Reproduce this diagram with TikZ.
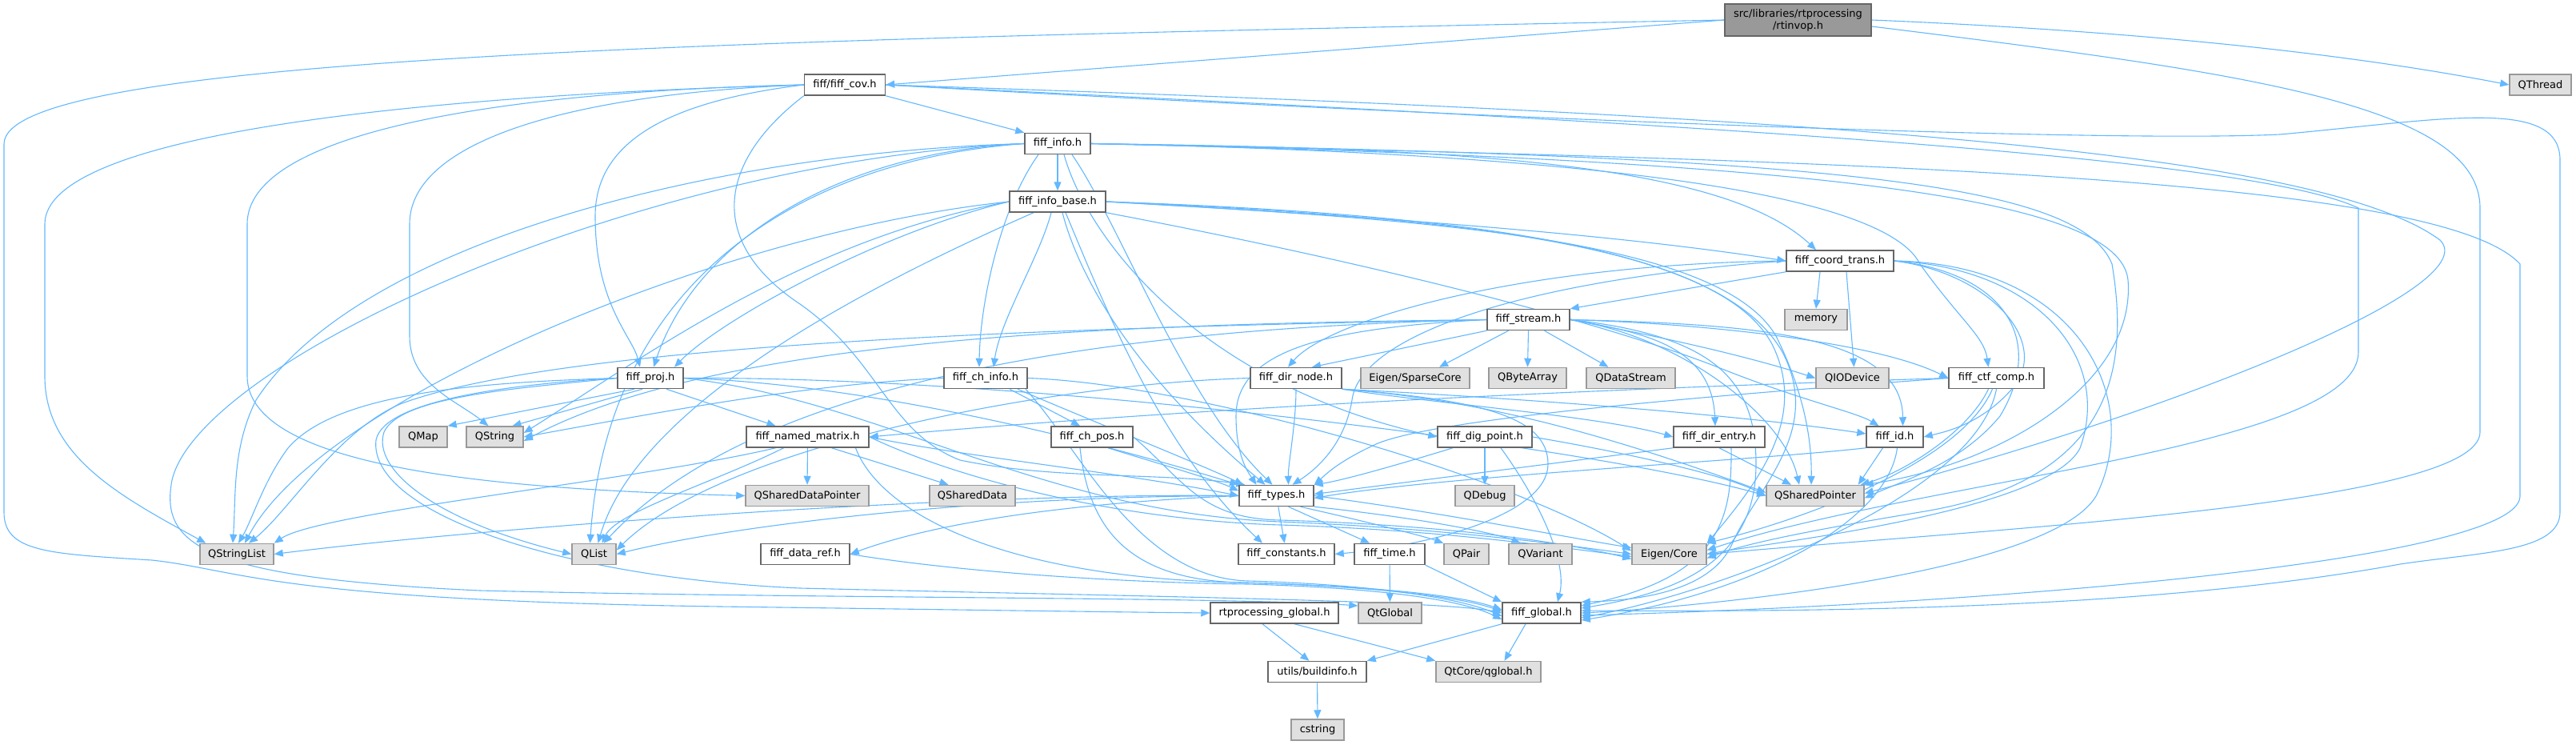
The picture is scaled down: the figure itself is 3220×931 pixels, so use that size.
\documentclass[tikz,border=0pt]{standalone}
\usepackage{fontspec}
\setmainfont{DejaVu Sans}
\usetikzlibrary{arrows.meta,backgrounds}
\definecolor{edgec}{HTML}{63B8FF}
\definecolor{extfill}{HTML}{E0E0E0}
\definecolor{extdraw}{HTML}{999999}
\definecolor{intdraw}{HTML}{666666}
\definecolor{rootfill}{HTML}{999999}
\newcommand\nfont{\fontsize{13}{15}\selectfont}
\tikzset{
  box/.style={draw=intdraw, fill=white, line width=1.5pt, minimum height=26pt, inner sep=0pt, font=\nfont},
  ext/.style={box, draw=extdraw, fill=extfill},
  rootbox/.style={box, fill=rootfill, minimum height=40pt, align=center},
  dep/.style={draw=edgec, line width=1.1pt, -{Triangle[length=11pt,width=9pt]}}
}
\begin{document}
\begin{tikzpicture}[x=1pt,y=-1pt]
\useasboundingbox (0,0) rectangle (3220,931);
% row 0/1
\node[rootbox, minimum width=183pt] (root) at (2247.5,25) {src/libraries/rtprocessing\\/rtinvop.h};
\node[ext, minimum width=77pt] (qthread) at (3175.5,106) {QThread};
\node[box, minimum width=101pt] (cov) at (1056,106) {fiff/fiff\_cov.h};
\node[box, minimum width=82pt] (info) at (1322,179.5) {fiff\_info.h};
\node[box, minimum width=120pt] (infobase) at (1322,252) {fiff\_info\_base.h};
\node[box, minimum width=134pt] (coord) at (2300,326) {fiff\_coord\_trans.h};
\node[box, minimum width=103pt] (stream) at (1910.5,399.5) {fiff\_stream.h};
\node[ext, minimum width=78pt] (memory) at (2270,399.5) {memory};
% row 6
\node[box, minimum width=82pt] (proj) at (813,472.5) {fiff\_proj.h};
\node[box, minimum width=104pt] (chinfo) at (1232,472.5) {fiff\_ch\_info.h};
\node[box, minimum width=114pt] (dirnode) at (1620,472.5) {fiff\_dir\_node.h};
\node[ext, minimum width=136pt] (sparse) at (1769,472.5) {Eigen/SparseCore};
\node[ext, minimum width=97pt] (qbyte) at (1909.5,472.5) {QByteArray};
\node[ext, minimum width=111pt] (qdstream) at (2038.5,472.5) {QDataStream};
\node[ext, minimum width=91pt] (qiodev) at (2315.5,472.5) {QIODevice};
\node[box, minimum width=119pt] (ctf) at (2495.5,472.5) {fiff\_ctf\_comp.h};
% row 7
\node[ext, minimum width=60pt] (qmap) at (529,546) {QMap};
\node[ext, minimum width=71pt] (qstring) at (618.5,546) {QString};
\node[box, minimum width=153pt] (named) at (1009.5,546) {fiff\_named\_matrix.h};
\node[box, minimum width=102pt] (chpos) at (1365,546) {fiff\_ch\_pos.h};
\node[box, minimum width=118pt] (digpoint) at (1856,546) {fiff\_dig\_point.h};
\node[box, minimum width=114pt] (direntry) at (2149,546) {fiff\_dir\_entry.h};
\node[box, minimum width=71pt] (fid) at (2368.5,546) {fiff\_id.h};
% row 8
\node[ext, minimum width=154pt] (qsdp) at (1009,619.5) {QSharedDataPointer};
\node[ext, minimum width=107pt] (qsd) at (1215.5,619.5) {QSharedData};
\node[box, minimum width=93pt] (types) at (1595.5,619.5) {fiff\_types.h};
\node[ext, minimum width=74pt] (qdebug) at (1856,619.5) {QDebug};
\node[ext, minimum width=122pt] (qsp) at (2269,619.5) {QSharedPointer};
% row 9
\node[ext, minimum width=92pt] (qsl) at (296,692.5) {QStringList};
\node[ext, minimum width=55pt] (qlist) at (742.5,692.5) {QList};
\node[box, minimum width=111pt] (dataref) at (1006.5,692.5) {fiff\_data\_ref.h};
\node[box, minimum width=120pt] (consts) at (1608,692.5) {fiff\_constants.h};
\node[box, minimum width=88pt] (ftime) at (1737,692.5) {fiff\_time.h};
\node[ext, minimum width=56pt] (qpair) at (1833,692.5) {QPair};
\node[ext, minimum width=79pt] (qvariant) at (1925.5,692.5) {QVariant};
\node[ext, minimum width=93pt] (eigen) at (2086.5,692.5) {Eigen/Core};
% row 10
\node[box, minimum width=160pt] (rtglobal) at (1593,766) {rtprocessing\_global.h};
\node[ext, minimum width=79pt] (qtglobal) at (1737.5,766) {QtGlobal};
\node[box, minimum width=98pt] (fglobal) at (1927,766) {fiff\_global.h};
% row 11/12
\node[box, minimum width=123pt] (buildinfo) at (1646.5,839.5) {utils/buildinfo.h};
\node[ext, minimum width=131pt] (qglobal) at (1860.5,839.5) {QtCore/qglobal.h};
\node[ext, minimum width=66pt] (cstring) at (1647,912) {cstring};

\begin{pgfonlayer}{background}
% root
\draw[dep] (root.west) -- (cov.east);
\draw[dep] (root.west) .. controls (900,50) and (5,70) .. (5,180) -- (5,640) .. controls (5,690) and (60,692) .. (190,700) .. controls (300,712) and (340,750) .. (900,758) .. controls (1200,762) and (1400,765) .. (rtglobal.west);
\draw[dep] (root.east) .. controls (2700,40) and (2950,70) .. (qthread.west);
\draw[dep] ([yshift=-8pt]root.east) .. controls (2800,90) and (3100,130) .. (3100,260) -- (3100,540) .. controls (3100,630) and (2500,660) .. (eigen.east);
% cov
\draw[dep] (cov.south east) -- (info.north west);
\draw[dep] (cov.west) .. controls (500,120) and (56,170) .. (56,280) -- (56,470) .. controls (56,570) and (150,620) .. ([xshift=8pt]qsl.north west);
\draw[dep] (cov.west) .. controls (600,115) and (309,170) .. (309,280) -- (309,470) .. controls (309,590) and (650,612) .. (qsdp.west);
\draw[dep] (cov.west) .. controls (700,118) and (512,180) .. (512,280) -- (512,420) .. controls (512,480) and (570,500) .. ([xshift=-8pt]qstring.north);
\draw[dep] (cov.west) .. controls (850,125) and (744,170) .. (744,270) .. controls (744,380) and (790,420) .. ([xshift=-13pt]proj.north);
\draw[dep] (cov.south west) .. controls (900,200) and (880,300) .. (1000,380) .. controls (1100,450) and (1110,540) .. (1200,575) .. controls (1320,600) and (1450,590) .. ([xshift=8pt]types.north west);
\draw[dep] (cov.east) .. controls (1700,140) and (2600,180) .. (2850,168) .. controls (3050,150) and (3200,120) .. (3200,200) -- (3200,640) .. controls (3200,690) and (3100,690) .. (3000,705) .. controls (2700,760) and (2300,765) .. ([yshift=3pt]fglobal.east);
\draw[dep] (cov.east) .. controls (2300,145) and (2900,190) .. (3050,300) .. controls (3110,360) and (2700,520) .. ([yshift=3pt]qsp.east);
\draw[dep] (cov.east) .. controls (2000,150) and (2800,190) .. (2948,260) -- (2948,440) .. controls (2948,560) and (2400,600) .. ([yshift=5pt]eigen.east);
% info
\draw[dep] (info) -- (infobase);
\draw[dep] (info.west) .. controls (1050,190) and (870,300) .. ([xshift=4pt]proj.north);
\draw[dep] ([xshift=-24pt]info.south) .. controls (1250,260) and (1225,380) .. ([xshift=-8pt]chinfo.north);
\draw[dep] ([xshift=18pt]info.south) .. controls (1400,280) and (1480,500) .. ([xshift=-5pt]types.north);
\draw[dep] (info.east) .. controls (1800,185) and (2150,200) .. ([xshift=-30pt]coord.north);
\draw[dep] (info.east) .. controls (1900,190) and (2350,230) .. (2400,330) .. controls (2450,400) and (2480,420) .. ([xshift=-10pt]ctf.north);
\draw[dep] (info.east) .. controls (2300,200) and (3050,220) .. (3150,330) -- (3150,620) .. controls (3150,700) and (2500,755) .. ([yshift=-3pt]fglobal.east);
\draw[dep] (info.east) .. controls (2300,195) and (2600,230) .. (2640,330) .. controls (2660,450) and (2650,600) .. (2400,640) .. controls (2250,665) and (2180,680) .. ([yshift=-5pt]eigen.east);
\draw[dep] (info.east) .. controls (2300,200) and (2650,250) .. (2660,350) .. controls (2670,480) and (2500,580) .. (qsp.north east);
\draw[dep] (info.west) .. controls (900,190) and (450,300) .. (320,500) .. controls (290,560) and (295,620) .. ([xshift=-5pt]qsl.north);
\draw[dep] (info.west) .. controls (1000,200) and (760,350) .. ([xshift=-5pt]qlist.north);
\draw[dep] (info.west) .. controls (800,200) and (250,450) .. (215,600) .. controls (200,680) and (250,722) .. (600,738) .. controls (1000,748) and (1550,746) .. ([yshift=9pt]qtglobal.west);
\draw[dep] ([xshift=8pt]info.south) .. controls (1360,300) and (1500,480) .. (digpoint.west);
% info_base
\draw[dep] (infobase.west) .. controls (1100,290) and (900,400) .. ([xshift=30pt]proj.north);
\draw[dep] ([xshift=-8pt]infobase.south) .. controls (1300,320) and (1250,400) .. ([xshift=10pt]chinfo.north);
\draw[dep] (infobase.east) .. controls (1700,270) and (2000,290) .. (coord.west);
\draw[dep] ([xshift=6pt]infobase.south) .. controls (1350,350) and (1420,470) .. ([xshift=-14pt]types.north);
\draw[dep] ([xshift=10pt]infobase.south) .. controls (1380,380) and (1450,560) .. ([xshift=-30pt]consts.north);
\draw[dep] (infobase.south east) .. controls (1800,345) and (2050,420) .. (2150,460) .. controls (2250,500) and (2320,515) .. ([xshift=-20pt]fid.north);
\draw[dep] (infobase.east) .. controls (1800,275) and (2150,300) .. (2220,420) .. controls (2250,480) and (2265,540) .. ([xshift=-5pt]qsp.north);
\draw[dep] (infobase.east) .. controls (1850,272) and (2150,310) .. (2215,430) .. controls (2260,520) and (2200,600) .. (eigen.north east);
\draw[dep] (infobase.east) .. controls (1900,270) and (2160,320) .. (2228,440) .. controls (2280,540) and (2195,610) .. (2165,680) .. controls (2140,735) and (2060,750) .. (fglobal.north east);
\draw[dep] (infobase.west) .. controls (1000,300) and (800,450) .. ([yshift=5pt]qstring.east);
\draw[dep] ([xshift=-30pt]infobase.south) .. controls (1100,350) and (800,500) .. ([xshift=5pt]qlist.north);
\draw[dep] (infobase.west) .. controls (900,290) and (400,500) .. ([xshift=10pt]qsl.north);
% stream
\draw[dep] (stream.south west) -- ([xshift=20pt]dirnode.north);
\draw[dep] ([xshift=-25pt]stream.south) -- ([xshift=30pt]sparse.north);
\draw[dep] (stream.south) -- (qbyte.north);
\draw[dep] ([xshift=20pt]stream.south) -- ([xshift=-28pt]qdstream.north);
\draw[dep] (stream.east) .. controls (2100,425) and (2200,450) .. (qiodev.west);
\draw[dep] (stream.east) .. controls (2150,405) and (2350,430) .. (ctf.west);
\draw[dep] (stream.east) .. controls (2050,415) and (2140,430) .. ([xshift=-5pt]direntry.north);
\draw[dep] (stream.east) .. controls (2200,405) and (2378,420) .. ([xshift=10pt]fid.north);
\draw[dep] (stream.west) .. controls (1650,410) and (1545,440) .. (1545,520) .. controls (1545,570) and (1560,590) .. ([xshift=-25pt]types.north);
\draw[dep] (stream.east) .. controls (2100,420) and (2230,520) .. ([xshift=-20pt]qsp.north);
\draw[dep] (stream.east) .. controls (2150,420) and (2195,480) .. (2195,580) .. controls (2195,700) and (2100,740) .. ([yshift=6pt]fglobal.east);
\draw[dep] (stream.west) .. controls (1400,405) and (900,420) .. ([yshift=-5pt]qstring.east);
\draw[dep] (stream.west) .. controls (1300,410) and (700,430) .. (500,505) .. controls (420,540) and (360,640) .. ([xshift=15pt]qsl.north);
\draw[dep] (stream.west) .. controls (1400,410) and (950,470) .. ([xshift=12pt]qlist.north);
% coord
\draw[dep] (coord.south west) -- (stream.north east);
\draw[dep] ([xshift=-25pt]coord.south) -- (memory.north);
\draw[dep] ([xshift=8pt]coord.south) -- ([xshift=2pt]qiodev.north);
\draw[dep] (coord.west) .. controls (1900,330) and (1660,400) .. ([xshift=-10pt]dirnode.north);
\draw[dep] (coord.west) .. controls (1900,350) and (1700,420) .. (1690,500) .. controls (1680,560) and (1640,590) .. ([xshift=20pt]types.north);
\draw[dep] (coord.east) .. controls (2500,340) and (2560,420) .. (2500,520) .. controls (2450,580) and (2380,600) .. ([yshift=-3pt]qsp.east);
\draw[dep] (coord.east) .. controls (2550,335) and (2640,450) .. (2600,560) .. controls (2560,640) and (2200,680) .. (eigen.east);
\draw[dep] (coord.east) .. controls (2600,330) and (2680,500) .. (2620,620) .. controls (2560,720) and (2100,760) .. (fglobal.east);
\draw[dep] (coord.east) .. controls (2480,340) and (2560,420) .. (2520,480) .. controls (2480,530) and (2430,540) .. (fid.east);
% ctf
\draw[dep] (ctf.west) .. controls (2200,480) and (1600,500) .. (named.east);
\draw[dep] (ctf.west) .. controls (2200,490) and (1800,520) .. (1720,555) .. controls (1670,578) and (1655,595) .. (types.north east);
\draw[dep] ([xshift=-10pt]ctf.south) .. controls (2460,540) and (2380,590) .. ([xshift=-5pt]qsp.north east);
\draw[dep] ([xshift=-5pt]ctf.south) .. controls (2450,580) and (2250,650) .. (eigen.north east);
\draw[dep] (ctf.south) .. controls (2470,620) and (2150,740) .. ([yshift=-6pt]fglobal.east);
% proj
\draw[dep] ([xshift=20pt]proj.south) -- ([xshift=-40pt]named.north);
\draw[dep] ([xshift=-20pt]proj.south) -- (qmap.north east);
\draw[dep] ([xshift=-10pt]proj.south) -- ([xshift=22pt]qstring.north);
\draw[dep] (proj.west) .. controls (600,478) and (420,490) .. (360,560) .. controls (330,600) and (315,650) .. ([xshift=2pt]qsl.north);
\draw[dep] (proj.west) .. controls (650,485) and (500,495) .. (480,540) .. controls (465,585) and (540,650) .. (qlist.west);
\draw[dep] (proj.west) .. controls (640,480) and (480,500) .. (470,550) .. controls (460,640) and (700,722) .. (1000,735) .. controls (1400,745) and (1800,750) .. (fglobal.west);
\draw[dep] (proj.east) .. controls (1100,480) and (1400,560) .. (types.north west);
\draw[dep] (proj.east) .. controls (1300,470) and (2000,560) .. (qsp.west);
\draw[dep] (proj.east) .. controls (1100,500) and (1300,640) .. (1600,652) .. controls (1800,660) and (1950,680) .. (eigen.west);
% ch_info
\draw[dep] ([xshift=30pt]chinfo.south) -- ([xshift=-15pt]chpos.north);
\draw[dep] ([xshift=40pt]chinfo.south) .. controls (1350,520) and (1500,580) .. ([xshift=6pt]types.north west);
\draw[dep] ([xshift=50pt]chinfo.south) .. controls (1350,560) and (1420,722) .. (1560,726) .. controls (1700,730) and (1820,745) .. ([yshift=-4pt]fglobal.west);
\draw[dep] (chinfo.east) .. controls (1500,480) and (1900,600) .. ([yshift=4pt]eigen.west);
\draw[dep] (chinfo.west) .. controls (1000,480) and (800,520) .. (qstring.east);
% dir_node
\draw[dep] (dirnode.south east) .. controls (1800,505) and (2000,520) .. (direntry.west);
\draw[dep] (dirnode.south east) .. controls (1850,495) and (2150,515) .. ([yshift=4pt]fid.west);
\draw[dep] (dirnode.south) .. controls (1620,530) and (1610,580) .. ([xshift=15pt]types.north);
\draw[dep] (dirnode.south east) .. controls (1850,500) and (2000,540) .. ([yshift=4pt]qsp.west);
\draw[dep] (dirnode.south east) .. controls (1850,500) and (1935,520) .. (1935,580) .. controls (1935,640) and (1800,680) .. (consts.east);
\draw[dep] (dirnode.west) .. controls (1300,480) and (900,560) .. ([yshift=5pt]qlist.east);
% named_matrix
\draw[dep] (named) -- (qsdp);
\draw[dep] ([xshift=30pt]named.south) -- ([xshift=-30pt]qsd.north);
\draw[dep] (named.east) .. controls (1200,570) and (1400,590) .. (types.west);
\draw[dep] ([xshift=60pt]named.south) .. controls (1100,640) and (1250,722) .. (1550,728) .. controls (1700,732) and (1820,742) .. ([yshift=4pt]fglobal.west);
\draw[dep] (named.east) .. controls (1200,600) and (1400,650) .. (1600,656) .. controls (1800,662) and (1950,684) .. ([yshift=-3pt]eigen.west);
\draw[dep] ([xshift=-40pt]named.south) .. controls (800,600) and (400,640) .. (qsl.north east);
\draw[dep] ([xshift=-30pt]named.south) .. controls (900,600) and (770,640) .. ([xshift=10pt]qlist.north);
% ch_pos
\draw[dep] ([xshift=20pt]chpos.south) .. controls (1450,580) and (1520,600) .. ([yshift=6pt]types.west);
\draw[dep] ([xshift=-15pt]chpos.south) .. controls (1360,650) and (1400,724) .. (1550,728) .. controls (1700,732) and (1820,744) .. ([yshift=2pt]fglobal.west);
\draw[dep] (chpos.east) .. controls (1480,600) and (1500,648) .. (1600,650) .. controls (1800,656) and (1950,676) .. ([yshift=-6pt]eigen.west);
% dig_point
\draw[dep] (digpoint) -- (qdebug);
\draw[dep] ([xshift=-40pt]digpoint.south) .. controls (1750,580) and (1680,600) .. (types.north east);
\draw[dep] ([xshift=20pt]digpoint.south) .. controls (1920,620) and (1960,700) .. ([xshift=20pt]fglobal.north);
\draw[dep] (digpoint.east) .. controls (2000,560) and (2150,590) .. (qsp.west);
% dir_entry
\draw[dep] (direntry.south west) -- ([yshift=2pt]types.east);
\draw[dep] (direntry.south) -- ([xshift=-30pt]qsp.north);
\draw[dep] ([xshift=15pt]direntry.south) .. controls (2165,650) and (2150,720) .. ([yshift=9pt]fglobal.east);
% fiff_id
\draw[dep] (fid.south west) .. controls (2200,575) and (1800,595) .. ([yshift=-3pt]types.east);
\draw[dep] ([xshift=-15pt]fid.south) -- ([xshift=-8pt]qsp.north east);
\draw[dep] ([xshift=3pt]fid.south) .. controls (2360,650) and (2200,740) .. ([yshift=-9pt]fglobal.east);
% fiff_types
\draw[dep] (types) -- (consts);
\draw[dep] ([xshift=15pt]types.south) -- ([xshift=-25pt]ftime.north);
\draw[dep] ([xshift=30pt]types.south) .. controls (1700,650) and (1780,670) .. (qpair.north west);
\draw[dep] (types.south east) .. controls (1800,650) and (1880,670) .. ([xshift=-25pt]qvariant.north);
\draw[dep] (types.east) .. controls (1800,640) and (1950,670) .. ([yshift=8pt]eigen.west);
\draw[dep] (types.west) .. controls (1300,630) and (1150,660) .. (dataref.east);
\draw[dep] (types.west) .. controls (1200,620) and (900,660) .. (qlist.east);
\draw[dep] (types.west) .. controls (1200,615) and (600,660) .. (qsl.east);
% lower part
\draw[dep] (dataref.east) .. controls (1200,715) and (1400,728) .. (1560,730) .. controls (1700,734) and (1820,746) .. ([yshift=-8pt]fglobal.west);
\draw[dep] (ftime) -- (qtglobal);
\draw[dep] (ftime.south east) -- (fglobal.north west);
\draw[dep] (fglobal.south west) -- (buildinfo.north east);
\draw[dep] ([xshift=-20pt]fglobal.south) -- ([xshift=20pt]qglobal.north);
\draw[dep] ([xshift=-15pt]rtglobal.south) -- ([xshift=-10pt]buildinfo.north);
\draw[dep] ([xshift=25pt]rtglobal.south) -- (qglobal.north west);
\draw[dep] (buildinfo) -- (cstring);
\end{pgfonlayer}
\end{tikzpicture}
\end{document}
